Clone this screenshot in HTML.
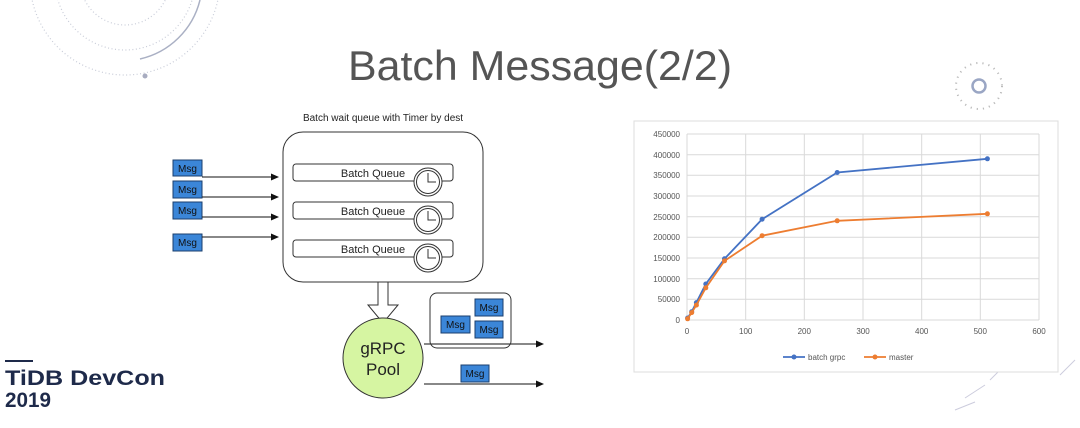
<!DOCTYPE html>
<html><head><meta charset="utf-8"><style>
html,body{margin:0;padding:0;background:#fff;}
body{width:1080px;height:428px;overflow:hidden;position:relative;font-family:"Liberation Sans",sans-serif;}
</style></head><body>
<svg width="1080" height="428" viewBox="0 0 1080 428" xmlns="http://www.w3.org/2000/svg" style="position:absolute;left:0;top:0">
<defs>
<marker id="ah" markerWidth="8" markerHeight="8" refX="7" refY="4" orient="auto" markerUnits="userSpaceOnUse"><path d="M0,0.5 L8,4 L0,7.5 Z" fill="#111"/></marker>
</defs>
<g fill="none" stroke="#c8ccd8" stroke-width="1.2" stroke-dasharray="1 2.5">
<circle cx="125" cy="-20" r="95"/>
<circle cx="125" cy="-20" r="70"/>
<circle cx="125" cy="-20" r="45"/>
</g>
<path d="M140,59 A80,80 0 0 0 200,0" fill="none" stroke="#aab0c4" stroke-width="1.5"/>
<circle cx="145" cy="76" r="2.5" fill="#a8acc0"/>
<circle cx="979" cy="86" r="6.5" fill="none" stroke="#9aa6c4" stroke-width="2.5"/>
<circle cx="979" cy="86" r="23" fill="none" stroke="#bbb" stroke-width="2" stroke-dasharray="1.2 5"/>
<g stroke="#ccd" stroke-width="1"><line x1="1060" y1="375" x2="1075" y2="360"/><line x1="955" y1="410" x2="975" y2="402"/><line x1="965" y1="398" x2="985" y2="385"/><line x1="990" y1="380" x2="1005" y2="365"/></g>
<text x="540" y="80" text-anchor="middle" font-family="Liberation Sans, sans-serif" font-size="42" fill="#555" textLength="384" lengthAdjust="spacingAndGlyphs">Batch Message(2/2)</text>
<line x1="5" y1="361" x2="33" y2="361" stroke="#1e2a4a" stroke-width="2"/>
<text x="5" y="385" font-family="Liberation Sans, sans-serif" font-weight="bold" font-size="21" fill="#1e2a4a" textLength="160" lengthAdjust="spacingAndGlyphs">TiDB DevCon</text>
<text x="5" y="407" font-family="Liberation Sans, sans-serif" font-weight="bold" font-size="21" fill="#1e2a4a" textLength="46" lengthAdjust="spacingAndGlyphs">2019</text>

<text x="383" y="121" text-anchor="middle" font-size="10" fill="#222">Batch wait queue with Timer by dest</text>
<rect x="283" y="132" width="200" height="150" rx="20" fill="#fff" stroke="#333" stroke-width="1"/>
<g font-size="11" fill="#222" text-anchor="middle">
<rect x="293" y="164" width="160" height="17" rx="3" fill="#fff" stroke="#333"/><text x="373" y="177">Batch Queue</text>
<rect x="293" y="202" width="160" height="17" rx="3" fill="#fff" stroke="#333"/><text x="373" y="215">Batch Queue</text>
<rect x="293" y="240" width="160" height="17" rx="3" fill="#fff" stroke="#333"/><text x="373" y="253">Batch Queue</text>
</g>
<g fill="#fff" stroke="#333" stroke-width="1">
<circle cx="428" cy="182" r="14"/><circle cx="428" cy="182" r="11.5"/>
<circle cx="428" cy="220" r="14"/><circle cx="428" cy="220" r="11.5"/>
<circle cx="428" cy="258" r="14"/><circle cx="428" cy="258" r="11.5"/>
<path d="M428,173 V182 H436 M428,211 V220 H436 M428,249 V258 H436"/>
</g>
<g font-size="10" fill="#111" text-anchor="middle">
<rect x="173" y="160" width="29" height="16" fill="#3b86d8" stroke="#1b3f6e"/><text x="187.5" y="172">Msg</text>
<rect x="173" y="181" width="29" height="17" fill="#3b86d8" stroke="#1b3f6e"/><text x="187.5" y="193">Msg</text>
<rect x="173" y="202" width="29" height="17" fill="#3b86d8" stroke="#1b3f6e"/><text x="187.5" y="214">Msg</text>
<rect x="173" y="234" width="29" height="17" fill="#3b86d8" stroke="#1b3f6e"/><text x="187.5" y="246">Msg</text>
</g>
<g stroke="#111" stroke-width="1" marker-end="url(#ah)">
<line x1="202" y1="177" x2="278" y2="177"/>
<line x1="202" y1="197" x2="278" y2="197"/>
<line x1="202" y1="217" x2="278" y2="217"/>
<line x1="202" y1="237" x2="278" y2="237"/>
<line x1="424" y1="344" x2="543" y2="344"/>
<line x1="424" y1="384" x2="543" y2="384"/>
</g>
<path d="M378,282 H388 V305 H398 L383,323 L368,305 H378 Z" fill="#fff" stroke="#333"/>
<circle cx="383" cy="358" r="40" fill="#d6f5a2" stroke="#333"/>
<text x="383" y="354" text-anchor="middle" font-size="17" fill="#222">gRPC</text>
<text x="383" y="375" text-anchor="middle" font-size="17" fill="#222">Pool</text>
<rect x="430" y="293" width="81" height="55" rx="7" fill="none" stroke="#333"/>
<g font-size="10" fill="#111" text-anchor="middle">
<rect x="441" y="316" width="29" height="17" fill="#3b86d8" stroke="#1b3f6e"/><text x="455.5" y="328">Msg</text>
<rect x="475" y="299" width="28" height="17" fill="#3b86d8" stroke="#1b3f6e"/><text x="489" y="311">Msg</text>
<rect x="475" y="321" width="28" height="17" fill="#3b86d8" stroke="#1b3f6e"/><text x="489" y="333">Msg</text>
<rect x="461" y="365" width="28" height="17" fill="#3b86d8" stroke="#1b3f6e"/><text x="475" y="377">Msg</text>
</g>

<rect x="634" y="121" width="424" height="251" fill="#fff" stroke="#ddd"/>
<g stroke="#d9d9d9" stroke-width="1">
<line x1="687" y1="134" x2="1039" y2="134"/><line x1="687" y1="154.7" x2="1039" y2="154.7"/>
<line x1="687" y1="175.3" x2="1039" y2="175.3"/><line x1="687" y1="196" x2="1039" y2="196"/>
<line x1="687" y1="216.7" x2="1039" y2="216.7"/><line x1="687" y1="237.3" x2="1039" y2="237.3"/>
<line x1="687" y1="258" x2="1039" y2="258"/><line x1="687" y1="278.7" x2="1039" y2="278.7"/>
<line x1="687" y1="299.3" x2="1039" y2="299.3"/><line x1="687" y1="320" x2="1039" y2="320"/>
<line x1="687" y1="134" x2="687" y2="320"/><line x1="745.7" y1="134" x2="745.7" y2="320"/>
<line x1="804.3" y1="134" x2="804.3" y2="320"/><line x1="863" y1="134" x2="863" y2="320"/>
<line x1="921.7" y1="134" x2="921.7" y2="320"/><line x1="980.3" y1="134" x2="980.3" y2="320"/>
<line x1="1039" y1="134" x2="1039" y2="320"/>
</g>
<g font-size="8" fill="#555" text-anchor="end">
<text x="680" y="137">450000</text><text x="680" y="158">400000</text><text x="680" y="178">350000</text>
<text x="680" y="199">300000</text><text x="680" y="220">250000</text><text x="680" y="240">200000</text>
<text x="680" y="261">150000</text><text x="680" y="282">100000</text><text x="680" y="302">50000</text>
<text x="680" y="323">0</text>
</g>
<g font-size="8" fill="#555" text-anchor="middle">
<text x="687" y="334">0</text><text x="745.7" y="334">100</text><text x="804.3" y="334">200</text>
<text x="863" y="334">300</text><text x="921.7" y="334">400</text><text x="980.3" y="334">500</text><text x="1039" y="334">600</text>
</g>
<polyline points="687.6,318 691.7,311.7 696.4,302.6 705.8,284 724.5,258.8 762.1,219.2 837.2,172.5 987.4,158.8" fill="none" stroke="#4472c4" stroke-width="1.8"/>
<g fill="#4472c4"><circle cx="687.6" cy="318" r="2.5"/><circle cx="691.7" cy="311.7" r="2.5"/><circle cx="696.4" cy="302.6" r="2.5"/><circle cx="705.8" cy="284" r="2.5"/><circle cx="724.5" cy="258.8" r="2.5"/><circle cx="762.1" cy="219.2" r="2.5"/><circle cx="837.2" cy="172.5" r="2.5"/><circle cx="987.4" cy="158.8" r="2.5"/></g>
<polyline points="687.6,318.8 691.7,312.6 696.4,305.1 705.8,287.8 724.5,260.9 762.1,235.7 837.2,220.8 987.4,213.8" fill="none" stroke="#ed7d31" stroke-width="1.8"/>
<g fill="#ed7d31"><circle cx="687.6" cy="318.8" r="2.5"/><circle cx="691.7" cy="312.6" r="2.5"/><circle cx="696.4" cy="305.1" r="2.5"/><circle cx="705.8" cy="287.8" r="2.5"/><circle cx="724.5" cy="260.9" r="2.5"/><circle cx="762.1" cy="235.7" r="2.5"/><circle cx="837.2" cy="220.8" r="2.5"/><circle cx="987.4" cy="213.8" r="2.5"/></g>
<line x1="783" y1="357" x2="805" y2="357" stroke="#4472c4" stroke-width="1.8"/><circle cx="794" cy="357" r="2.5" fill="#4472c4"/>
<text x="808" y="360" font-size="8" fill="#555">batch grpc</text>
<line x1="864" y1="357" x2="886" y2="357" stroke="#ed7d31" stroke-width="1.8"/><circle cx="875" cy="357" r="2.5" fill="#ed7d31"/>
<text x="889" y="360" font-size="8" fill="#555">master</text>
</svg>
</body></html>
